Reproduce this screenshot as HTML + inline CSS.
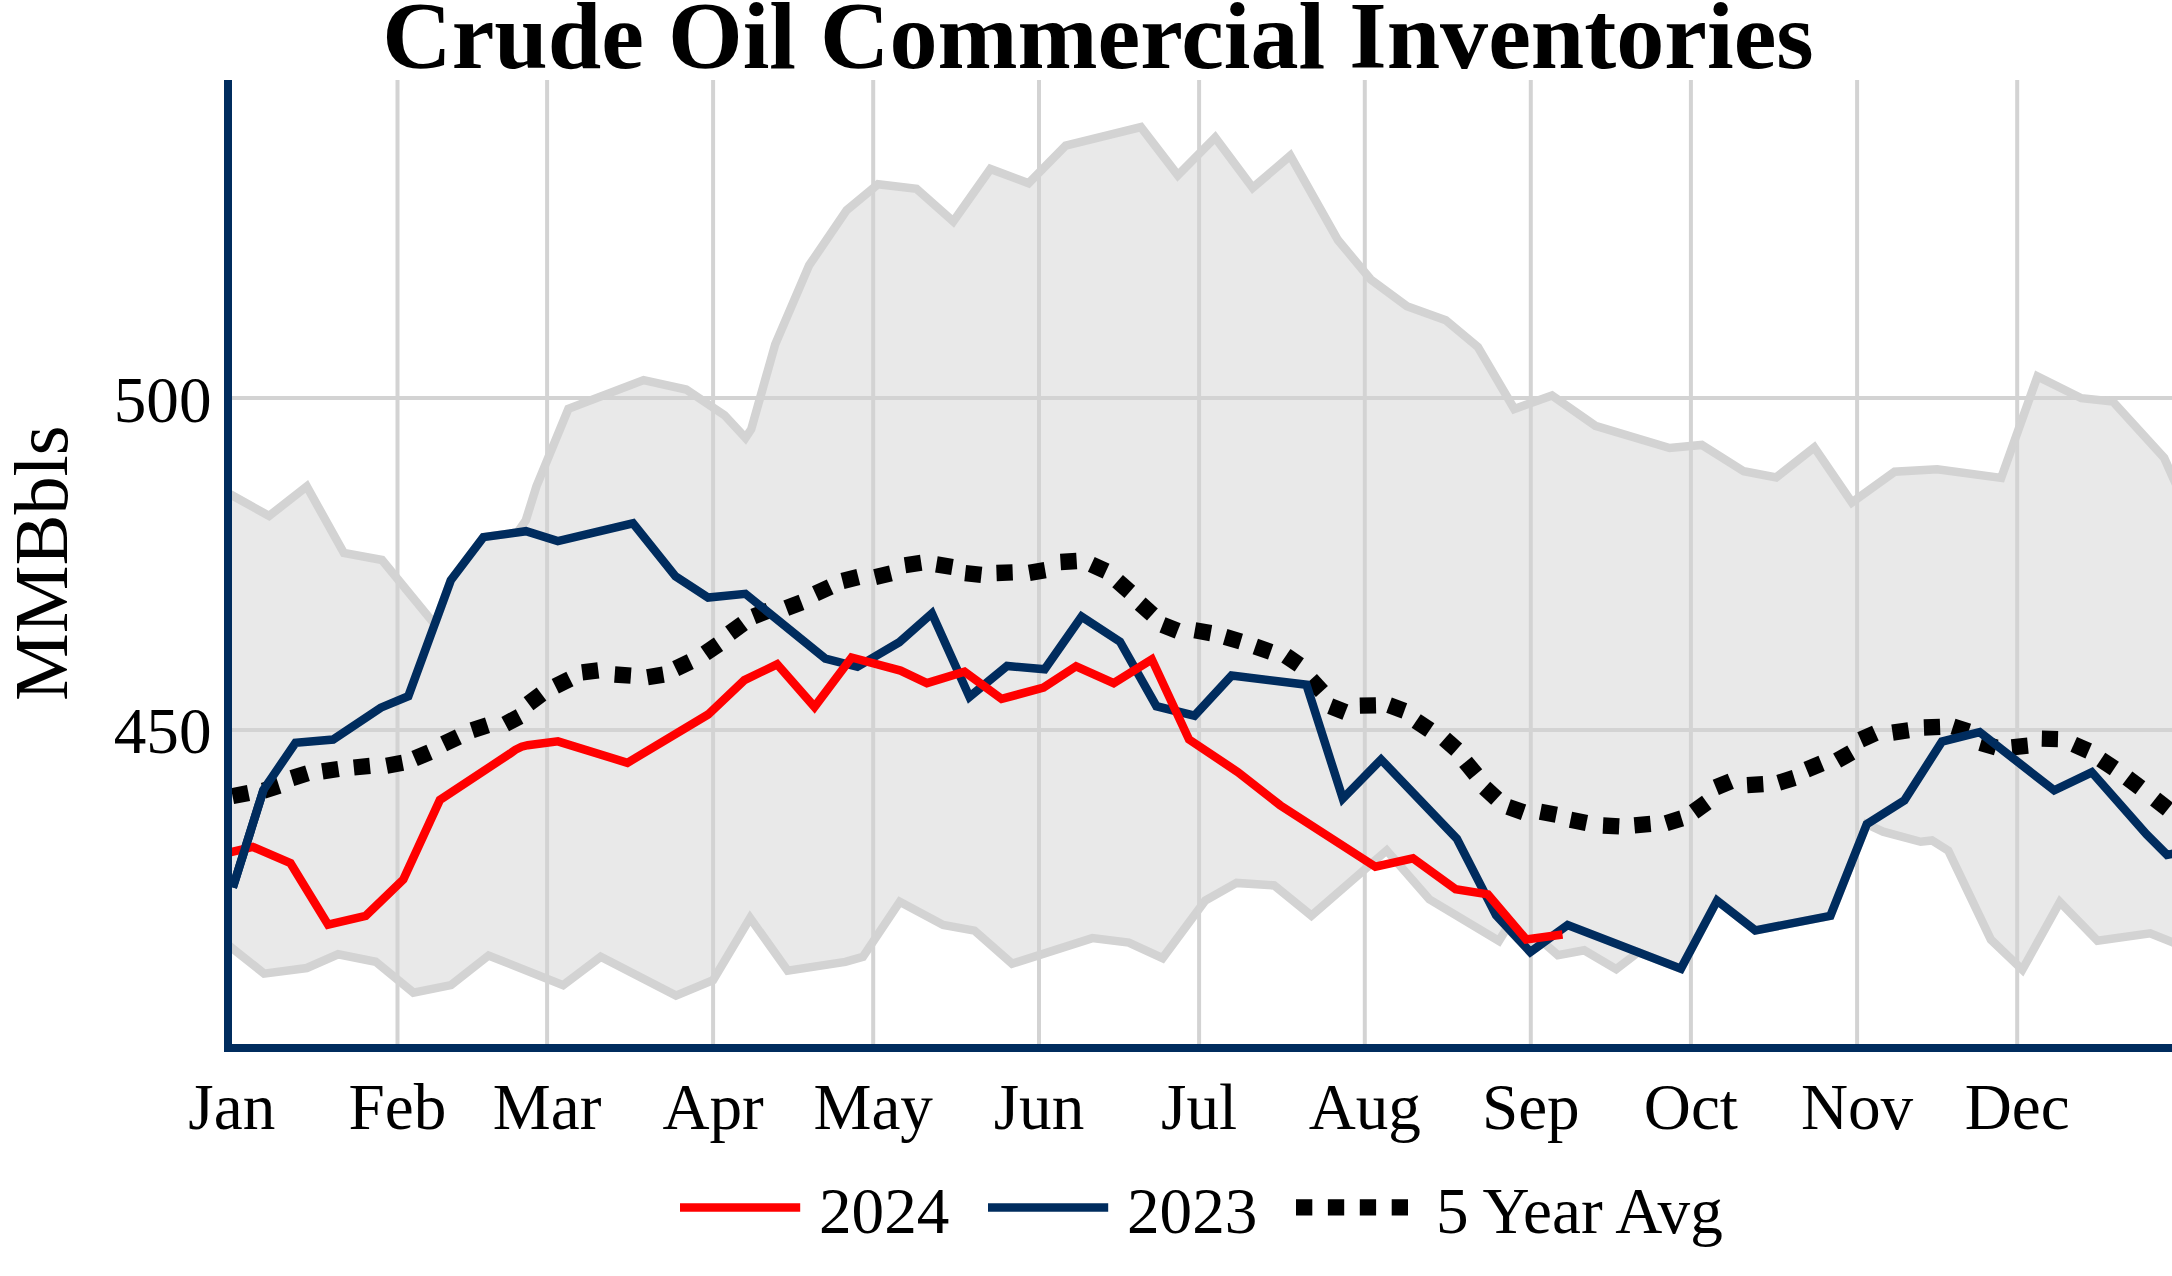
<!DOCTYPE html>
<html><head><meta charset="utf-8"><title>Crude Oil Commercial Inventories</title>
<style>html,body{margin:0;padding:0;background:#fff;overflow:hidden}svg{display:block}text{font-family:"Liberation Serif",serif;fill:#000}</style>
</head><body>
<svg width="2172" height="1276" viewBox="0 0 2172 1276">
<rect width="2172" height="1276" fill="#fff"/>
<defs><clipPath id="plot"><rect x="232" y="80" width="1940" height="964"/></clipPath></defs>
<g stroke="#d3d3d3" stroke-width="4" fill="none">
<line x1="397.5" y1="80" x2="397.5" y2="1044"/>
<line x1="547.1" y1="80" x2="547.1" y2="1044"/>
<line x1="713.1" y1="80" x2="713.1" y2="1044"/>
<line x1="873.2" y1="80" x2="873.2" y2="1044"/>
<line x1="1039.0" y1="80" x2="1039.0" y2="1044"/>
<line x1="1199.1" y1="80" x2="1199.1" y2="1044"/>
<line x1="1364.8" y1="80" x2="1364.8" y2="1044"/>
<line x1="1530.8" y1="80" x2="1530.8" y2="1044"/>
<line x1="1690.9" y1="80" x2="1690.9" y2="1044"/>
<line x1="1857.1" y1="80" x2="1857.1" y2="1044"/>
<line x1="2017.2" y1="80" x2="2017.2" y2="1044"/>
<line x1="232" y1="398.1" x2="2172" y2="398.1"/>
<line x1="232" y1="730.0" x2="2172" y2="730.0"/>
</g>
<g clip-path="url(#plot)">
<polygon points="224.0,490.8 232.0,495.3 269.1,515.9 306.8,486.5 343.9,553.0 382.0,560.0 434.8,624.4 450.8,580.3 483.4,537.1 517.5,532.4 525.8,520.3 536.4,486.5 568.4,408.8 643.6,380.1 686.2,389.5 724.5,415.2 745.5,437.8 751.2,429.3 775.2,344.3 809.1,265.4 846.7,210.2 878.0,184.2 916.5,188.9 953.3,221.5 990.4,169.0 1028.6,183.3 1065.7,145.6 1140.9,127.1 1177.8,175.2 1215.2,137.6 1252.7,187.8 1290.3,155.7 1337.9,240.0 1370.6,279.3 1406.9,306.2 1445.8,320.2 1477.9,347.0 1514.3,409.0 1552.0,395.6 1595.4,425.8 1669.6,448.0 1701.8,444.9 1743.7,471.3 1776.2,477.4 1814.3,447.3 1851.9,502.5 1894.6,471.7 1937.2,469.2 2001.2,477.9 2037.5,376.4 2081.4,398.2 2112.8,401.5 2164.2,457.9 2172.0,475.4 2184.0,502.0 2184.0,947.0 2172.0,942.1 2150.2,933.3 2097.5,940.8 2059.9,902.0 2022.3,969.7 1990.9,939.6 1948.3,850.6 1932.0,840.5 1920.7,841.8 1883.1,831.7 1866.8,824.2 1830.4,915.8 1755.3,930.4 1717.1,900.3 1680.9,968.6 1638.3,952.2 1616.2,969.1 1584.2,950.3 1557.9,955.3 1543.4,942.5 1530.3,952.2 1507.1,927.7 1498.9,940.9 1429.3,899.3 1386.7,850.4 1311.4,915.6 1274.2,885.4 1236.6,882.9 1205.3,900.5 1162.6,958.1 1128.8,942.6 1092.4,938.1 1012.1,963.7 974.5,930.6 943.2,925.0 899.8,901.7 862.9,956.9 845.3,961.9 787.7,970.7 750.1,918.0 713.1,980.1 676.0,995.6 600.7,956.8 563.1,985.1 488.6,955.5 451.0,985.1 413.4,992.6 375.7,961.8 338.1,954.3 306.8,968.0 264.1,973.6 232.0,948.0 224.0,941.6" fill="rgb(211,211,211)" fill-opacity="0.5" stroke="none"/>
<polyline points="224.0,941.6 232.0,948.0 264.1,973.6 306.8,968.0 338.1,954.3 375.7,961.8 413.4,992.6 451.0,985.1 488.6,955.5 563.1,985.1 600.7,956.8 676.0,995.6 713.1,980.1 750.1,918.0 787.7,970.7 845.3,961.9 862.9,956.9 899.8,901.7 943.2,925.0 974.5,930.6 1012.1,963.7 1092.4,938.1 1128.8,942.6 1162.6,958.1 1205.3,900.5 1236.6,882.9 1274.2,885.4 1311.4,915.6 1386.7,850.4 1429.3,899.3 1498.9,940.9 1507.1,927.7 1530.3,952.2 1543.4,942.5 1557.9,955.3 1584.2,950.3 1616.2,969.1 1638.3,952.2 1680.9,968.6 1717.1,900.3 1755.3,930.4 1830.4,915.8 1866.8,824.2 1883.1,831.7 1920.7,841.8 1932.0,840.5 1948.3,850.6 1990.9,939.6 2022.3,969.7 2059.9,902.0 2097.5,940.8 2150.2,933.3 2172.0,942.1 2184.0,947.0" fill="none" stroke="#d3d3d3" stroke-width="8.5" stroke-linejoin="miter" stroke-miterlimit="2"/>
<polyline points="224.0,490.8 232.0,495.3 269.1,515.9 306.8,486.5 343.9,553.0 382.0,560.0 434.8,624.4 450.8,580.3 483.4,537.1 517.5,532.4 525.8,520.3 536.4,486.5 568.4,408.8 643.6,380.1 686.2,389.5 724.5,415.2 745.5,437.8 751.2,429.3 775.2,344.3 809.1,265.4 846.7,210.2 878.0,184.2 916.5,188.9 953.3,221.5 990.4,169.0 1028.6,183.3 1065.7,145.6 1140.9,127.1 1177.8,175.2 1215.2,137.6 1252.7,187.8 1290.3,155.7 1337.9,240.0 1370.6,279.3 1406.9,306.2 1445.8,320.2 1477.9,347.0 1514.3,409.0 1552.0,395.6 1595.4,425.8 1669.6,448.0 1701.8,444.9 1743.7,471.3 1776.2,477.4 1814.3,447.3 1851.9,502.5 1894.6,471.7 1937.2,469.2 2001.2,477.9 2037.5,376.4 2081.4,398.2 2112.8,401.5 2164.2,457.9 2172.0,475.4 2184.0,502.0" fill="none" stroke="#d3d3d3" stroke-width="8.5" stroke-linejoin="miter" stroke-miterlimit="2"/>
<g stroke="#000" stroke-width="16.3" fill="none">
<line x1="232.5" y1="796.1" x2="248.5" y2="792.9"/>
<line x1="263.4" y1="790.7" x2="279.0" y2="785.7"/>
<line x1="291.9" y1="778.1" x2="307.5" y2="773.3"/>
<line x1="322.3" y1="771.4" x2="338.5" y2="769.0"/>
<line x1="353.8" y1="767.5" x2="370.0" y2="765.9"/>
<line x1="386.6" y1="765.7" x2="402.6" y2="762.7"/>
<line x1="414.6" y1="758.6" x2="429.6" y2="752.2"/>
<line x1="443.6" y1="743.8" x2="458.4" y2="736.8"/>
<line x1="472.1" y1="730.3" x2="487.5" y2="725.3"/>
<line x1="505.2" y1="724.1" x2="519.6" y2="716.5"/>
<line x1="528.5" y1="703.8" x2="541.5" y2="694.0"/>
<line x1="555.3" y1="686.2" x2="569.9" y2="679.0"/>
<line x1="582.1" y1="672.4" x2="598.3" y2="670.4"/>
<line x1="614.7" y1="674.5" x2="630.9" y2="675.7"/>
<line x1="647.4" y1="677.2" x2="663.4" y2="674.6"/>
<line x1="675.7" y1="668.6" x2="690.3" y2="661.6"/>
<line x1="705.1" y1="653.4" x2="718.5" y2="644.2"/>
<line x1="729.9" y1="633.1" x2="743.1" y2="623.5"/>
<line x1="753.4" y1="616.5" x2="768.6" y2="610.5"/>
<line x1="786.3" y1="608.2" x2="801.5" y2="602.4"/>
<line x1="815.4" y1="593.7" x2="830.2" y2="586.9"/>
<line x1="842.5" y1="581.0" x2="858.3" y2="577.0"/>
<line x1="875.1" y1="577.1" x2="890.9" y2="573.3"/>
<line x1="905.0" y1="565.2" x2="921.2" y2="562.8"/>
<line x1="936.4" y1="564.4" x2="952.4" y2="567.0"/>
<line x1="965.2" y1="573.1" x2="981.4" y2="574.9"/>
<line x1="996.5" y1="573.0" x2="1012.7" y2="572.4"/>
<line x1="1029.2" y1="572.9" x2="1045.2" y2="570.1"/>
<line x1="1060.5" y1="562.0" x2="1076.7" y2="561.0"/>
<line x1="1091.3" y1="564.3" x2="1106.1" y2="571.1"/>
<line x1="1117.6" y1="581.2" x2="1129.8" y2="591.8"/>
<line x1="1140.2" y1="603.7" x2="1152.4" y2="614.5"/>
<line x1="1162.5" y1="624.9" x2="1177.7" y2="630.9"/>
<line x1="1194.8" y1="630.3" x2="1210.8" y2="633.1"/>
<line x1="1225.1" y1="636.9" x2="1240.7" y2="641.5"/>
<line x1="1255.3" y1="646.5" x2="1270.7" y2="651.9"/>
<line x1="1285.9" y1="655.7" x2="1299.3" y2="664.9"/>
<line x1="1310.9" y1="679.4" x2="1321.9" y2="691.4"/>
<line x1="1330.2" y1="706.2" x2="1345.4" y2="712.2"/>
<line x1="1359.8" y1="705.7" x2="1376.0" y2="705.3"/>
<line x1="1389.0" y1="705.2" x2="1404.4" y2="710.8"/>
<line x1="1416.2" y1="720.9" x2="1429.8" y2="730.1"/>
<line x1="1444.5" y1="738.9" x2="1456.7" y2="749.7"/>
<line x1="1465.5" y1="761.9" x2="1475.9" y2="774.5"/>
<line x1="1484.7" y1="787.8" x2="1496.7" y2="798.8"/>
<line x1="1508.1" y1="806.9" x2="1523.5" y2="812.3"/>
<line x1="1540.4" y1="811.8" x2="1556.4" y2="814.8"/>
<line x1="1570.5" y1="819.8" x2="1586.5" y2="823.0"/>
<line x1="1603.0" y1="825.5" x2="1619.2" y2="826.3"/>
<line x1="1634.4" y1="825.3" x2="1650.6" y2="823.9"/>
<line x1="1666.1" y1="823.2" x2="1681.7" y2="818.4"/>
<line x1="1693.6" y1="811.9" x2="1706.8" y2="802.3"/>
<line x1="1715.8" y1="787.4" x2="1730.8" y2="781.2"/>
<line x1="1747.1" y1="785.1" x2="1763.3" y2="784.1"/>
<line x1="1778.7" y1="782.7" x2="1794.3" y2="777.9"/>
<line x1="1806.6" y1="769.6" x2="1821.6" y2="763.4"/>
<line x1="1837.1" y1="760.5" x2="1851.3" y2="752.5"/>
<line x1="1860.6" y1="739.7" x2="1875.4" y2="733.1"/>
<line x1="1892.5" y1="732.6" x2="1908.7" y2="730.2"/>
<line x1="1923.9" y1="727.5" x2="1940.1" y2="726.9"/>
<line x1="1953.0" y1="726.4" x2="1968.6" y2="731.4"/>
<line x1="1980.6" y1="742.9" x2="1996.2" y2="747.5"/>
<line x1="2011.7" y1="747.3" x2="2027.9" y2="745.7"/>
<line x1="2041.8" y1="738.7" x2="2058.0" y2="739.1"/>
<line x1="2073.7" y1="744.4" x2="2088.7" y2="751.0"/>
<line x1="2100.8" y1="759.5" x2="2114.4" y2="768.5"/>
<line x1="2127.4" y1="777.9" x2="2140.4" y2="787.7"/>
<line x1="2155.1" y1="799.2" x2="2167.9" y2="809.2"/>
</g>
<polyline points="232.8,887.6 263.6,789.6 295.5,742.8 333.1,739.6 380.8,707.7 408.3,696.2 450.8,580.3 483.4,537.1 526.0,531.2 557.8,541.1 633.0,523.3 675.5,576.3 708.1,597.6 745.4,593.8 825.3,658.5 857.4,666.8 899.3,642.2 931.9,613.4 969.5,696.9 1007.1,666.0 1044.7,669.3 1081.6,616.6 1120.0,641.7 1156.4,706.2 1194.5,715.7 1231.6,675.6 1306.4,684.7 1342.8,798.6 1381.1,759.5 1456.9,838.8 1496.1,915.4 1530.3,952.0 1567.6,925.1 1680.9,968.6 1717.1,900.6 1755.3,930.4 1830.4,915.8 1866.8,824.2 1904.4,800.4 1942.0,741.5 1979.7,732.2 2054.2,790.4 2091.8,772.3 2146.5,834.3 2167.0,854.8 2172.0,853.8 2184.0,851.4" fill="none" stroke="#002c5e" stroke-width="8.5" stroke-linejoin="miter" stroke-miterlimit="2"/>
<polyline points="224.0,853.8 232.0,851.9 252.8,846.9 290.5,863.2 328.1,924.7 365.7,915.9 403.3,879.5 439.9,799.9 510.3,753.4 515.3,749.8 521.6,746.7 527.8,745.2 557.9,741.4 627.4,762.8 708.1,714.5 744.4,680.1 777.1,664.3 814.5,706.9 851.6,657.5 900.5,670.6 926.9,683.1 964.5,671.8 1001.6,698.9 1043.5,687.6 1076.1,666.3 1113.7,683.1 1151.8,659.3 1189.0,739.5 1237.9,772.1 1280.1,805.2 1375.4,866.7 1413.0,858.4 1455.6,889.3 1487.9,894.4 1526.2,939.5 1562.5,934.5" fill="none" stroke="#ff0000" stroke-width="8.5" stroke-linejoin="miter" stroke-miterlimit="2"/>
<polyline points="232.8,887.6 263.6,789.6" fill="none" stroke="#002c5e" stroke-width="8.5"/>
</g>
<rect x="224" y="80" width="8" height="972" fill="#002c5e"/>
<rect x="224" y="1044" width="1948" height="8" fill="#002c5e"/>
<text x="1098" y="67.9" text-anchor="middle" font-size="96.1" font-weight="bold">Crude Oil Commercial Inventories</text>
<text x="211.5" y="421.5" text-anchor="end" font-size="65.2">500</text>
<text x="211.5" y="753" text-anchor="end" font-size="65.2">450</text>
<text transform="translate(67.2,563.3) rotate(-90)" text-anchor="middle" font-size="76.3">MMBbls</text>
<text x="231.8" y="1128.6" text-anchor="middle" font-size="65.2">Jan</text>
<text x="397.5" y="1128.6" text-anchor="middle" font-size="65.2">Feb</text>
<text x="547.1" y="1128.6" text-anchor="middle" font-size="65.2">Mar</text>
<text x="713.1" y="1128.6" text-anchor="middle" font-size="65.2">Apr</text>
<text x="873.2" y="1128.6" text-anchor="middle" font-size="65.2">May</text>
<text x="1039.0" y="1128.6" text-anchor="middle" font-size="65.2">Jun</text>
<text x="1199.1" y="1128.6" text-anchor="middle" font-size="65.2">Jul</text>
<text x="1364.8" y="1128.6" text-anchor="middle" font-size="65.2">Aug</text>
<text x="1530.8" y="1128.6" text-anchor="middle" font-size="65.2">Sep</text>
<text x="1690.9" y="1128.6" text-anchor="middle" font-size="65.2">Oct</text>
<text x="1857.1" y="1128.6" text-anchor="middle" font-size="65.2">Nov</text>
<text x="2017.2" y="1128.6" text-anchor="middle" font-size="65.2">Dec</text>
<line x1="680" y1="1207.4" x2="800.2" y2="1207.4" stroke="#ff0000" stroke-width="8.5"/>
<text x="819" y="1232.8" font-size="65.2">2024</text>
<line x1="988" y1="1207.4" x2="1108.2" y2="1207.4" stroke="#002c5e" stroke-width="8.5"/>
<text x="1127" y="1232.8" font-size="65.2">2023</text>
<line x1="1296" y1="1207.4" x2="1408" y2="1207.4" stroke="#000" stroke-width="16.3" stroke-dasharray="16.3,15.6"/>
<text x="1436" y="1232.8" font-size="65.2">5 Year Avg</text>
</svg></body></html>
